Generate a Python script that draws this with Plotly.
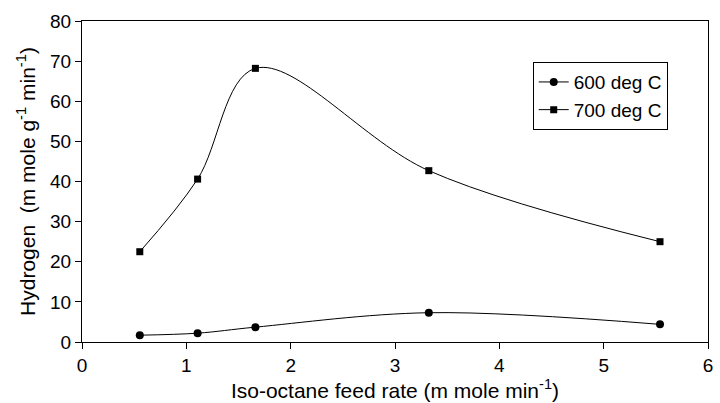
import plotly.graph_objects as go

feed_rate = [0.554, 1.108, 1.662, 3.324, 5.54]
h2_600 = [1.7, 2.2, 3.7, 7.3, 4.4]
h2_700 = [22.5, 40.6, 68.2, 42.7, 25.0]
x_ticks = [0, 1, 2, 3, 4, 5, 6]
y_ticks = [0, 10, 20, 30, 40, 50, 60, 70, 80]

FONT = "Liberation Sans, Arial, sans-serif"

fig = go.Figure()
fig.add_trace(go.Scatter(
    x=feed_rate, y=h2_600, name="600 deg C", mode="lines+markers",
    line=dict(color="black", width=1, shape="spline", smoothing=1),
    marker=dict(symbol="circle", size=8, color="black"),
))
fig.add_trace(go.Scatter(
    x=feed_rate, y=h2_700, name="700 deg C", mode="lines+markers",
    line=dict(color="black", width=1, shape="spline", smoothing=1),
    marker=dict(symbol="square", size=7, color="black"),
))

fig.update_layout(
    width=720, height=403,
    margin=dict(l=82, r=7, t=21, b=60),
    paper_bgcolor="white", plot_bgcolor="white",
    font=dict(family=FONT, size=19, color="black"),
    showlegend=True,
    legend=dict(
        x=0.72, y=0.872, xanchor="left", yanchor="top",
        bgcolor="white", bordercolor="black", borderwidth=1,
        font=dict(family=FONT, size=19, color="black"),
        itemwidth=30, tracegroupgap=0,
    ),
    xaxis=dict(
        range=[0, 6], tickvals=x_ticks, ticktext=[str(v) for v in x_ticks],
        showgrid=False, zeroline=False,
        showline=True, linecolor="black", linewidth=1, mirror=True,
        ticks="outside", ticklen=6, tickcolor="black",
        tickfont=dict(family=FONT, size=19),
        title=dict(text="Iso-octane feed rate (m mole min<sup>-1</sup>)",
                   font=dict(family=FONT, size=21), standoff=6),
    ),
    yaxis=dict(
        range=[0, 80], tickvals=y_ticks, ticktext=[str(v) for v in y_ticks],
        showgrid=False, zeroline=False,
        showline=True, linecolor="black", linewidth=1, mirror=True,
        ticks="outside", ticklen=6, tickcolor="black",
        tickfont=dict(family=FONT, size=19),
        title=dict(text="Hydrogen  (m mole g<sup>-1</sup> min<sup>-1</sup>)",
                   font=dict(family=FONT, size=21), standoff=8),
    ),
)

fig.write_html("out.html")
